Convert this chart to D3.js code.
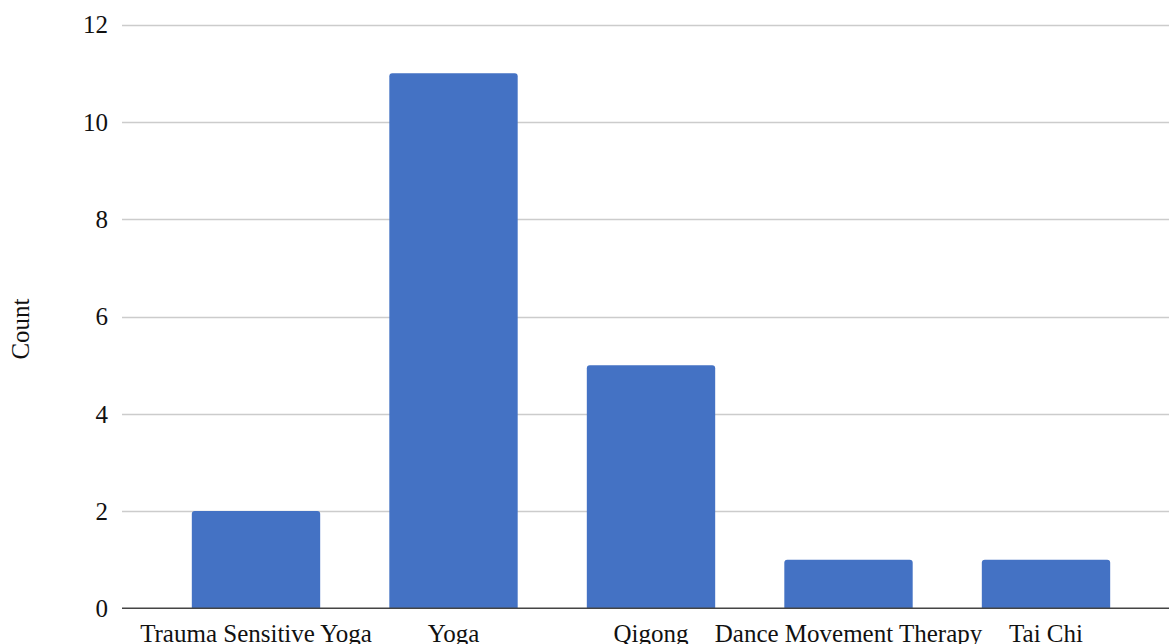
<!DOCTYPE html>
<html>
<head>
<meta charset="utf-8">
<script src="https://cdn.jsdelivr.net/npm/d3@7"></script>
<style>
  html, body { margin: 0; padding: 0; background: #fff; overflow: hidden; }
  svg { display: block; }
  text { font-family: "Liberation Serif", "Times New Roman", serif; fill: #111; }
</style>
</head>
<body>
<svg id="chart" width="1169" height="644"></svg>
<script>
const categories = ["Trauma Sensitive Yoga", "Yoga", "Qigong", "Dance Movement Therapy", "Tai Chi"];
const counts = [2, 11, 5, 1, 1];
const yTicks = [0, 2, 4, 6, 8, 10, 12];
const yTitle = "Count";

const W = 1169, H = 644;
const svg = d3.select("#chart");

const plotLeft = 122, plotRight = 1169;
const y = d3.scaleLinear().domain([0, 12]).range([608.3, 24.7]);
const x = d3.scaleBand().domain(categories)
  .range([157.25, 1144.75]).paddingInner(0.35).paddingOuter(0.175);

// gridlines
svg.append("g").selectAll("line").data(yTicks.filter(d => d !== 0)).join("line")
  .attr("x1", plotLeft).attr("x2", plotRight)
  .attr("y1", d => Math.round(y(d)) + 0.5).attr("y2", d => Math.round(y(d)) + 0.5)
  .attr("stroke", "#cccccc").attr("stroke-width", 1.3);

// y tick labels
svg.append("g").selectAll("text").data(yTicks).join("text")
  .attr("x", 108).attr("y", d => y(d)).attr("dy", "0.35em")
  .attr("text-anchor", "end").attr("font-size", 25).text(d => d);

// bars with rounded top corners
const r = 3;
svg.append("g").selectAll("path").data(categories).join("path")
  .attr("fill", "#4472C4")
  .attr("d", (c, i) => {
    const x0 = x(c), x1 = x(c) + x.bandwidth();
    const yt = y(counts[i]), yb = y(0);
    return `M${x0},${yb}V${yt + r}Q${x0},${yt} ${x0 + r},${yt}H${x1 - r}Q${x1},${yt} ${x1},${yt + r}V${yb}Z`;
  });

// baseline
svg.append("line")
  .attr("x1", plotLeft).attr("x2", plotRight)
  .attr("y1", y(0)).attr("y2", y(0))
  .attr("stroke", "#444").attr("stroke-width", 1.4);

// x labels
svg.append("g").selectAll("text").data(categories).join("text")
  .attr("x", c => x(c) + x.bandwidth() / 2).attr("y", 642)
  .attr("text-anchor", "middle").attr("font-size", 25).text(c => c);

// y title
svg.append("text")
  .attr("transform", "translate(29,329) rotate(-90)")
  .attr("text-anchor", "middle").attr("font-size", 25).text(yTitle);
</script>
</body>
</html>
